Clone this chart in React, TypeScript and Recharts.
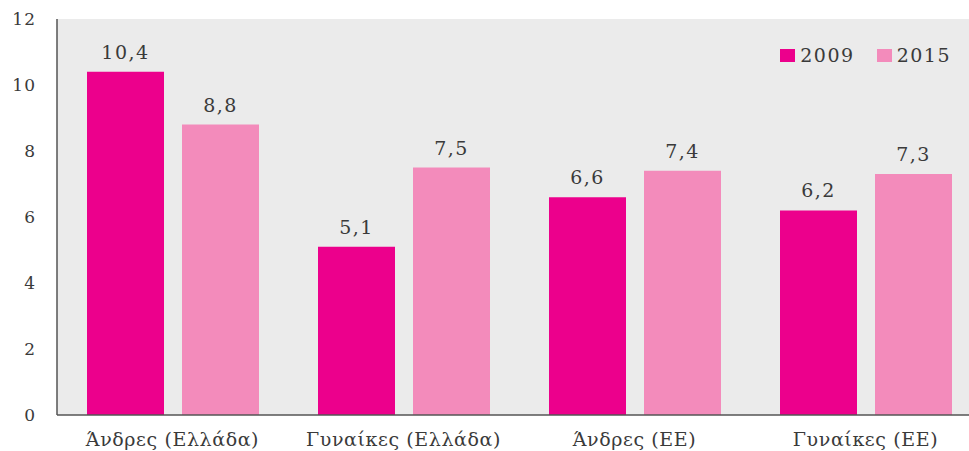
import React from 'react';
import { BarChart, Bar, XAxis, YAxis, CartesianGrid, Legend, LabelList } from 'recharts';

const categories = ['Άνδρες (Ελλάδα)', 'Γυναίκες (Ελλάδα)', 'Άνδρες (ΕΕ)', 'Γυναίκες (ΕΕ)'];
const values2009 = [10.4, 5.1, 6.6, 6.2];
const values2015 = [8.8, 7.5, 7.4, 7.3];
const yTicks = [0, 2, 4, 6, 8, 10, 12];

const COLOR_2009 = '#ec008c';
const COLOR_2015 = '#f38bbb';
const FONT = '"DejaVu Serif", serif';
const TEXT = '#3a3a3a';

const data = categories.map((name, i) => ({
  name,
  y2009: values2009[i],
  y2015: values2015[i],
}));

const fmt = (v: number) => v.toFixed(1).replace('.', ',');

const LegendContent = (props: any) => {
  const items = props.payload || [];
  return (
    <div style={{ display: 'flex', alignItems: 'center', fontFamily: FONT, fontSize: 19, letterSpacing: 1.5, color: TEXT, lineHeight: '20px' }}>
      {items.map((it: any, i: number) => (
        <div key={i} style={{ display: 'flex', alignItems: 'center', marginLeft: i === 0 ? 0 : 22 }}>
          <span style={{ display: 'inline-block', width: 15, height: 13, background: it.color, marginRight: 5 }} />
          <span>{it.value}</span>
        </div>
      ))}
    </div>
  );
};

const labelStyle = { fill: TEXT, fontFamily: FONT, fontSize: 19, letterSpacing: 1.5 };

// The plot area runs slightly past the visible frame on the right, so the
// chart is drawn wider and clipped by its container.
export default function App() {
  return (
    <div style={{ position: 'absolute', left: 0, top: 0, width: 969, height: 451, background: '#fff', overflow: 'hidden' }}>
      <BarChart
        width={981}
        height={451}
        data={data}
        margin={{ top: 19, right: 0, left: 0, bottom: 0 }}
        barGap={18}
        barCategoryGap={29}
      >
        <CartesianGrid horizontal={false} vertical={false} fill="#ebebeb" />
        <XAxis
          dataKey="name"
          height={36}
          tickLine={false}
          axisLine={{ stroke: '#555', strokeWidth: 1.5 }}
          tick={{ fill: TEXT, fontFamily: FONT, fontSize: 19, letterSpacing: 0.6 }}
          tickMargin={12}
          interval={0}
        />
        <YAxis
          width={57}
          domain={[0, 12]}
          ticks={yTicks}
          tickLine={false}
          tickSize={0}
          tickMargin={21}
          axisLine={{ stroke: '#555', strokeWidth: 1.5 }}
          tick={{ fill: TEXT, fontFamily: FONT, fontSize: 17, letterSpacing: 1 }}
        />
        <Legend
          layout="vertical"
          verticalAlign="middle"
          align="center"
          content={<LegendContent />}
          wrapperStyle={{ top: 45, right: 30, left: 'auto', width: 'auto', height: 20 }}
        />
        <Bar dataKey="y2009" name="2009" fill={COLOR_2009} barSize={77} isAnimationActive={false}>
          <LabelList dataKey="y2009" position="top" offset={13} formatter={fmt} style={labelStyle} />
        </Bar>
        <Bar dataKey="y2015" name="2015" fill={COLOR_2015} barSize={77} isAnimationActive={false}>
          <LabelList dataKey="y2015" position="top" offset={13} formatter={fmt} style={labelStyle} />
        </Bar>
      </BarChart>
    </div>
  );
}
